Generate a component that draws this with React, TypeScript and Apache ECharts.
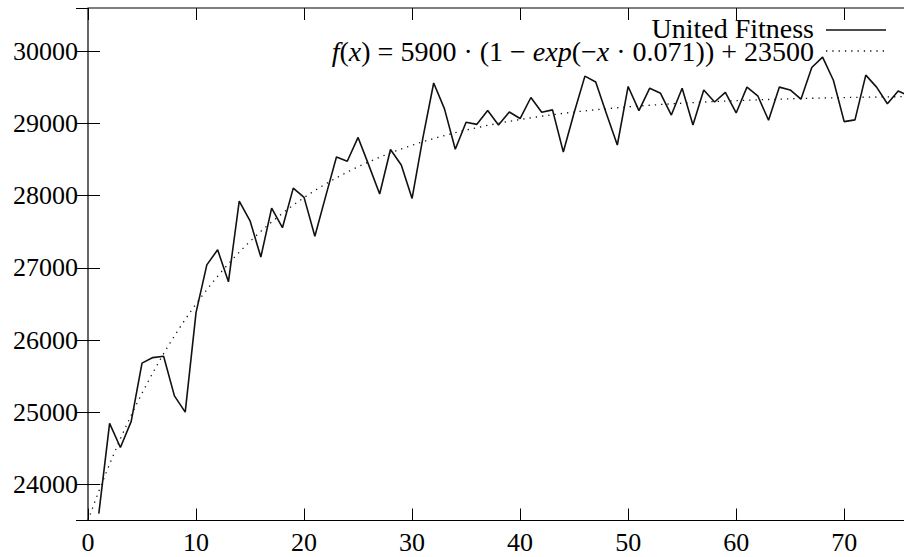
import React, { useEffect, useRef } from "react";
import * as echarts from "echarts";

// United fitness per generation (generation 1..76)
const unitedFitness: number[] = [
  23594, 24845, 24511, 24874, 25680, 25757, 25776, 25227, 25002, 26380,
  27041, 27251, 26807, 27924, 27652, 27150, 27828, 27556, 28105, 27976,
  27437, 27990, 28535, 28477, 28807, 28420, 28024, 28640, 28425, 27962,
  28800, 29561, 29203, 28644, 29017, 28988, 29179, 28979, 29160, 29069,
  29360, 29155, 29189, 28606, 29150, 29656, 29575, 29130, 28702, 29513,
  29179, 29489, 29418, 29117, 29489, 28979, 29465, 29298, 29432, 29146,
  29504, 29384, 29045, 29504, 29465, 29337, 29776, 29919, 29599, 29026,
  29050, 29670, 29504, 29274, 29451, 29380,
];
const firstGeneration = 1;

// Fitted function shown in the legend: f(x) = A * (1 - exp(-x * k)) + B
const fitA = 5900;
const fitK = 0.071;
const fitB = 23500;
const fitSampleStep = 0.5;

const xMin = 0;
const xMax = 76;
const xInterval = 10;
const yMin = 23500;
const yMax = 30600;

const seriesName = "United Fitness";

const FONT = "Liberation Serif";

export default function App() {
  const ref = useRef<HTMLDivElement>(null);

  useEffect(() => {
    if (!ref.current) return;
    const chart = echarts.init(ref.current, undefined, { renderer: "svg" });

    const dataPts = unitedFitness.map((v, i) => [firstGeneration + i, v]);
    const fitPts: number[][] = [];
    for (let x = xMin; x <= xMax + 1e-9; x += fitSampleStep) {
      fitPts.push([x, fitA * (1 - Math.exp(-x * fitK)) + fitB]);
    }

    const tick = { show: true, inside: true, length: 12, lineStyle: { color: "#000", width: 1 } };
    const label = { color: "#000", fontFamily: FONT, fontSize: 26, formatter: (v: number) => String(v) };

    chart.setOption({
      animation: false,
      backgroundColor: "#fff",
      grid: {
        left: 88,
        top: 8,
        right: 3,
        bottom: 36.5,
        show: true,
        borderColor: "#000",
        borderWidth: 1.2,
        backgroundColor: "transparent",
      },
      xAxis: [
        {
          type: "value",
          min: xMin,
          max: xMax,
          interval: xInterval,
          position: "bottom",
          axisLine: { show: false },
          axisTick: tick,
          splitLine: { show: false },
          axisLabel: { ...label, margin: 9, showMaxLabel: false },
        },
        {
          type: "value",
          min: xMin,
          max: xMax,
          interval: xInterval,
          position: "top",
          axisLine: { show: false },
          axisTick: tick,
          splitLine: { show: false },
          axisLabel: { show: false },
        },
      ],
      yAxis: [
        {
          type: "value",
          min: yMin,
          max: yMax,
          splitNumber: 7,
          position: "left",
          axisLine: { show: false },
          axisTick: tick,
          splitLine: { show: false },
          axisLabel: { ...label, margin: 10, showMinLabel: false, showMaxLabel: false },
        },
        {
          type: "value",
          min: yMin,
          max: yMax,
          splitNumber: 7,
          position: "right",
          axisLine: { show: false },
          axisTick: tick,
          splitLine: { show: false },
          axisLabel: { show: false },
        },
      ],
      series: [
        {
          name: seriesName,
          type: "line",
          data: dataPts,
          showSymbol: false,
          symbol: "none",
          lineStyle: { color: "#111", width: 1.6 },
          clip: true,
        },
        {
          name: "fit",
          type: "line",
          data: fitPts,
          showSymbol: false,
          symbol: "none",
          lineStyle: { color: "#111", width: 1.3, type: [1.3, 5] },
          clip: true,
        },
      ],
      graphic: [
        {
          type: "text",
          x: 814,
          y: 28,
          style: {
            text: seriesName,
            align: "right",
            verticalAlign: "middle",
            fill: "#000",
            fontFamily: FONT,
            fontSize: 28,
            lineHeight: 20,
          },
          z: 10,
        },
        {
          type: "line",
          shape: { x1: 826, y1: 30, x2: 886, y2: 30 },
          style: { stroke: "#111", lineWidth: 1.5 },
          z: 10,
        },
        {
          type: "text",
          x: 814,
          y: 51,
          style: {
            text:
              "{i|f}{r|(}{i|x}{r|) = 5900 · (1 − }{i|exp}{r|(−}{i|x}{r| · 0.071)) + 23500}",
            align: "right",
            verticalAlign: "middle",
            fill: "#000",
            fontFamily: FONT,
            fontSize: 28,
            lineHeight: 20,
            rich: {
              i: { fontFamily: FONT, fontSize: 28, fontStyle: "italic", fill: "#000", lineHeight: 20 },
              r: { fontFamily: FONT, fontSize: 28, fill: "#000", lineHeight: 20 },
            },
          },
          z: 10,
        },
        {
          type: "line",
          shape: { x1: 826, y1: 51, x2: 886, y2: 51 },
          style: { stroke: "#111", lineWidth: 1.3, lineDash: [1.3, 5] },
          z: 10,
        },
      ],
    });

    return () => {
      chart.dispose();
    };
  }, []);

  return (
    <div
      style={{
        position: "fixed",
        left: 0,
        top: 0,
        width: 904,
        height: 557,
        overflow: "hidden",
        background: "#fff",
      }}
    >
      <div ref={ref} style={{ width: 912, height: 557 }} />
    </div>
  );
}
